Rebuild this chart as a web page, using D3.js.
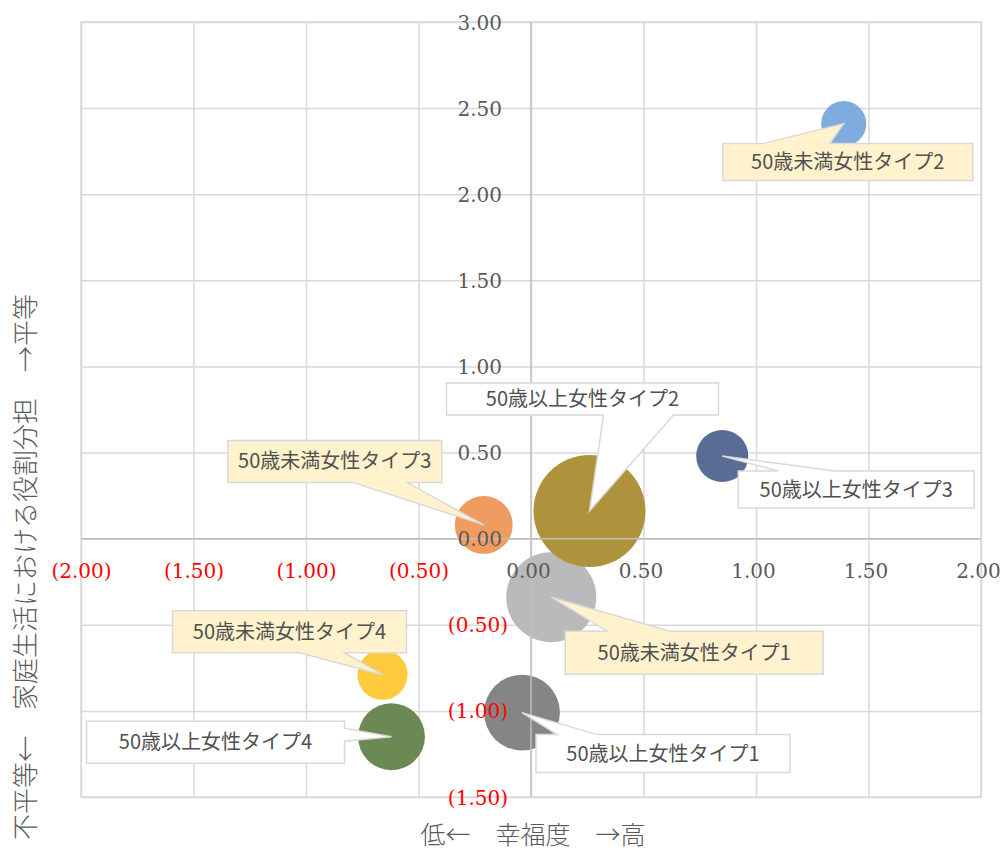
<!DOCTYPE html>
<html><head><meta charset="utf-8">
<script src="https://cdn.jsdelivr.net/npm/d3@7"></script>
<style>
html,body{margin:0;padding:0;background:#fff;}
svg{display:block;}
</style></head>
<body>
<svg id="chart" width="1003" height="852"></svg>
<script>
// ---- data ----
const categories = ["50歳未満女性タイプ1","50歳未満女性タイプ2","50歳未満女性タイプ3","50歳未満女性タイプ4",
                    "50歳以上女性タイプ1","50歳以上女性タイプ2","50歳以上女性タイプ3","50歳以上女性タイプ4"];
const happiness    = [0.09, 1.39, -0.21, -0.66, -0.04, 0.26, 0.85, -0.62];
const roleEquality = [-0.34, 2.41, 0.08, -0.79, -1.01, 0.16, 0.48, -1.15];
const bubbleSizes  = [203, 51, 84, 63, 144, 314, 68, 112];
const xTicks = [-2, -1.5, -1, -0.5, 0, 0.5, 1, 1.5, 2];
const yTicks = [-1.5, -1, -0.5, 0, 0.5, 1, 1.5, 2, 2.5, 3];
const xTitle = "低←　幸福度　→高";
const yTitle = "不平等←　家庭生活における役割分担　→平等";

// ---- styles / layout ----
const colors = ["#BABABA","#7EACDD","#F09B60","#FFCB3D","#858585","#AF923C","#586C95","#6A8954"];
const drawOrder = [1,2,3,4,6,7,0,5];
// callout boxes relative to bubble centre (pixels)
const calloutLayout = [
  {dx:14,  dy:34,    w:258, h:43, side:"top",    a:56,   b:119},
  {dx:-121,dy:20,    w:250, h:37, side:"top",    a:-81,  b:-14},
  {dx:-256,dy:-84.5, w:214, h:42, side:"bottom", a:-131, b:-77},
  {dx:-210,dy:-64,   w:234, h:42, side:"bottom", a:-83,  b:-38},
  {dx:14,  dy:22,    w:254, h:38, side:"top",    a:35,   b:75},
  {dx:-143,dy:-128,  w:272, h:32, side:"bottom", a:14,   b:84},
  {dx:16,  dy:15,    w:236, h:37, side:"top",    a:56,   b:113},
  {dx:-305,dy:-15.5, w:258, h:42, side:"right",  a:-8.5, b:4.5}
];

const svg = d3.select("#chart");
const L = 81, R = 981, T = 22, B = 797;
const x = d3.scaleLinear().domain([-2, 2]).range([L, R]);
const y = d3.scaleLinear().domain([-1.5, 3]).range([B, T]);
const r = d3.scaleSqrt().domain([0, d3.max(bubbleSizes)]).range([0, 56]);

const fmt = d => d < 0 ? "(" + Math.abs(d).toFixed(2) + ")" : d.toFixed(2);
const gridColor = "#D9D9D9";

// gridlines
const gx = svg.append("g").attr("transform", `translate(0,${B})`)
  .call(d3.axisBottom(x).tickValues(xTicks).tickSize(-(B - T)).tickFormat(""));
const gy = svg.append("g").attr("transform", `translate(${L},0)`)
  .call(d3.axisLeft(y).tickValues(yTicks).tickSize(-(R - L)).tickFormat(""));
[gx, gy].forEach(g => {
  g.select(".domain").remove();
  g.selectAll("line").attr("stroke", gridColor).attr("stroke-width", 1.5);
});
svg.append("rect").attr("x", L).attr("y", T).attr("width", R - L).attr("height", B - T)
  .attr("fill", "none").attr("stroke", gridColor).attr("stroke-width", 1.5);

// bubbles
svg.append("g").selectAll("circle").data(drawOrder).join("circle")
  .attr("cx", i => x(happiness[i]))
  .attr("cy", i => y(roleEquality[i]))
  .attr("r", i => r(bubbleSizes[i]))
  .attr("fill", i => colors[i]);

// axis lines through zero (drawn over bubbles)
svg.append("line").attr("x1", x(0)).attr("x2", x(0)).attr("y1", T).attr("y2", B)
  .attr("stroke", "#BFBFBF").attr("stroke-width", 1.5);
svg.append("line").attr("x1", L).attr("x2", R).attr("y1", y(0)).attr("y2", y(0))
  .attr("stroke", "#BFBFBF").attr("stroke-width", 1.5);

// tick labels
const ay = svg.append("g").attr("transform", `translate(${x(0)},0)`)
  .call(d3.axisLeft(y).tickValues(yTicks).tickSize(0).tickPadding(29).tickFormat(fmt));
const ax = svg.append("g").attr("transform", `translate(0,${y(0)})`)
  .call(d3.axisBottom(x).tickValues(xTicks).tickSize(0).tickFormat(fmt));
[ax, ay].forEach(g => {
  g.select(".domain").remove();
  g.selectAll("text")
    .attr("font-family", "'DejaVu Serif', serif")
    .attr("font-size", 20)
    .attr("fill", d => d < 0 ? "#FF0000" : "#595959");
});
ay.selectAll("text").attr("dy", "0.35em").attr("x", d => d < 0 ? -23 : -29);
ax.selectAll("text").attr("y", 32).attr("dy", "0.35em").attr("dx", d => d < 0 ? 0 : -3);

// callouts
function calloutPath(cx, cy, c) {
  const x0 = cx + c.dx, y0 = cy + c.dy, x1 = x0 + c.w, y1 = y0 + c.h;
  const p = d3.path();
  p.moveTo(x0, y0);
  if (c.side === "top") { p.lineTo(cx + c.a, y0); p.lineTo(cx, cy); p.lineTo(cx + c.b, y0); }
  p.lineTo(x1, y0);
  if (c.side === "right") { p.lineTo(x1, cy + c.a); p.lineTo(cx, cy); p.lineTo(x1, cy + c.b); }
  p.lineTo(x1, y1);
  if (c.side === "bottom") { p.lineTo(cx + c.b, y1); p.lineTo(cx, cy); p.lineTo(cx + c.a, y1); }
  p.lineTo(x0, y1);
  if (c.side === "left") { p.lineTo(x0, cy + c.b); p.lineTo(cx, cy); p.lineTo(x0, cy + c.a); }
  p.closePath();
  return p.toString();
}
const cg = svg.append("g").selectAll("g").data(d3.range(categories.length)).join("g");
cg.append("path")
  .attr("d", i => calloutPath(x(happiness[i]), y(roleEquality[i]), calloutLayout[i]))
  .attr("fill", i => categories[i].includes("未満") ? "#FFF2CC" : "#FFFFFF")
  .attr("stroke", gridColor).attr("stroke-width", 1.5).attr("stroke-linejoin", "miter");
cg.append("text")
  .attr("x", i => x(happiness[i]) + calloutLayout[i].dx + calloutLayout[i].w / 2)
  .attr("y", i => y(roleEquality[i]) + calloutLayout[i].dy + calloutLayout[i].h / 2)
  .attr("dy", "0.35em")
  .attr("text-anchor", "middle")
  .attr("font-family", "'Noto Sans CJK JP', sans-serif")
  .attr("font-size", 20)
  .attr("fill", "#505050")
  .text(i => categories[i]);

// axis titles
svg.append("text").attr("x", 533).attr("y", 835).attr("dy", "0.35em")
  .attr("text-anchor", "middle").attr("font-family", "'Noto Sans CJK JP', sans-serif")
  .attr("font-size", 25).attr("font-weight", 300).attr("fill", "#595959").text(xTitle);
svg.append("text").attr("transform", "translate(26,567) rotate(-90)").attr("dy", "0.35em")
  .attr("text-anchor", "middle").attr("font-family", "'Noto Sans CJK JP', sans-serif")
  .attr("font-size", 26).attr("font-weight", 300).attr("fill", "#595959").text(yTitle);
</script>
</body></html>
